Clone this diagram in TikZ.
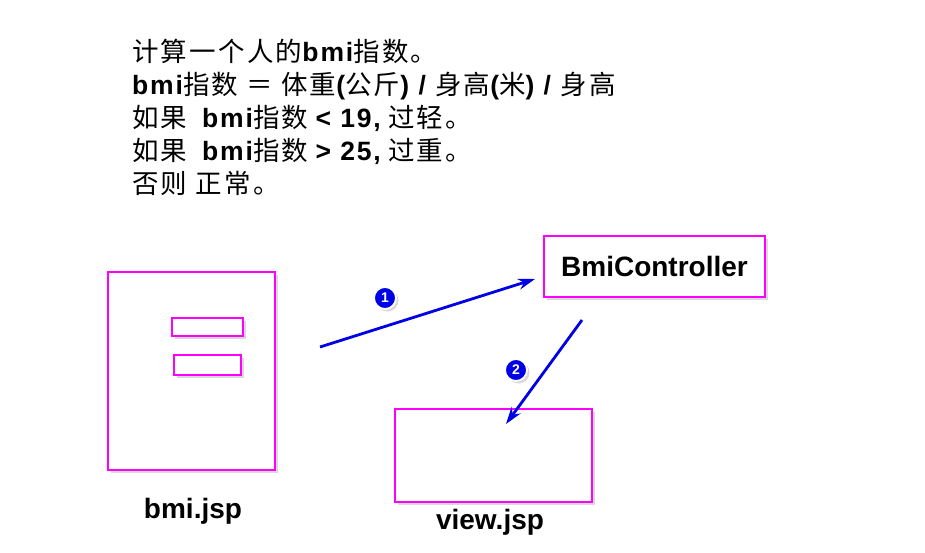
\documentclass[tikz,border=0pt]{standalone}
\usepackage{fontspec}
\setmainfont{Liberation Sans}
\newfontfamily\zh[LetterSpace=8.5]{Noto Sans CJK SC}
\newfontfamily\en[LetterSpace=7]{Liberation Sans}
\usetikzlibrary{arrows.meta,shadows}
\definecolor{pagemagenta}{HTML}{FF00FF}
\definecolor{flowblue}{HTML}{0000E6}
\newcommand{\lat}[1]{{\en\bfseries #1}}

\begin{document}
\begin{tikzpicture}[x=1pt, y=-1pt,
  boxshadow/.style={drop shadow={opacity=0.3, shadow xshift=2.5pt, shadow yshift=-2.5pt}},
  frame/.style={draw=pagemagenta, line width=1.4pt, fill=white, boxshadow, inner sep=0pt},
  rule/.style={anchor=base west, inner sep=0pt, font=\fontsize{26.5}{33}\selectfont},
  caption/.style={inner sep=0pt, font=\fontsize{28}{30}\selectfont\bfseries},
  flow/.style={draw=flowblue, line width=2.8pt, -{Stealth[length=17pt, width=11pt]}},
  badge/.style={circle, fill=flowblue, draw=white, line width=1.8pt, text=white, inner sep=0pt,
    minimum size=22pt, font=\fontsize{14}{14}\selectfont\bfseries, boxshadow}]
  \useasboundingbox (0,0) rectangle (925,553); % page size of the reference

  % The rule text
  \node[rule] (l1) at (132,62) {{\zh 计算一个人的}\lat{bmi}{\zh 指数。}};
  \node[rule] (l2) at (132,95) {\lat{bmi}{\zh 指数 ＝ 体重}\lat{(}{\zh 公斤}\lat{) / }{\zh 身高}\lat{(}{\zh 米}\lat{) / }{\zh 身高}};
  \node[rule] (l3) at (132,128) {{\zh 如果}\ \ \lat{bmi}{\zh 指数} \lat{< 19,} {\zh 过轻。}};
  \node[rule] (l4) at (132,161) {{\zh 如果}\ \ \lat{bmi}{\zh 指数} \lat{> 25,} {\zh 过重。}};
  \node[rule] (l5) at (132,194) {{\zh 否则 正常。}};

  % The pages
  \node[frame, minimum width=167pt, minimum height=198pt] (bmi) at (191.5,371) {};
  \node[frame, minimum width=71pt, minimum height=18pt] (field1) at (207.5,327) {};
  \node[frame, minimum width=67pt, minimum height=20pt] (field2) at (207.5,365) {};
  \node[caption] (bmilabel) at (193,511) {bmi.jsp};

  \node[frame, minimum width=221pt, minimum height=61pt,
        font=\fontsize{28}{30}\selectfont\bfseries] (ctrl) at (654.5,266.5) {BmiController};

  \node[frame, minimum width=197pt, minimum height=93pt] (view) at (493.5,455.5) {};
  \node[caption] (viewlabel) at (490,522) {view.jsp};

  % The request and the forward
  \coordinate (submit) at (320,347);
  \coordinate (req) at (535,279);
  \coordinate (fwd) at (582,320);
  \coordinate (show) at (506,424);
  \draw[flow] (submit) -- (req); % step 1
  \draw[flow] (fwd) -- (show);   % step 2
  \node[badge] (one) at (385,298) {1};
  \node[badge] (two) at (516,370) {2};
\end{tikzpicture}
\end{document}
